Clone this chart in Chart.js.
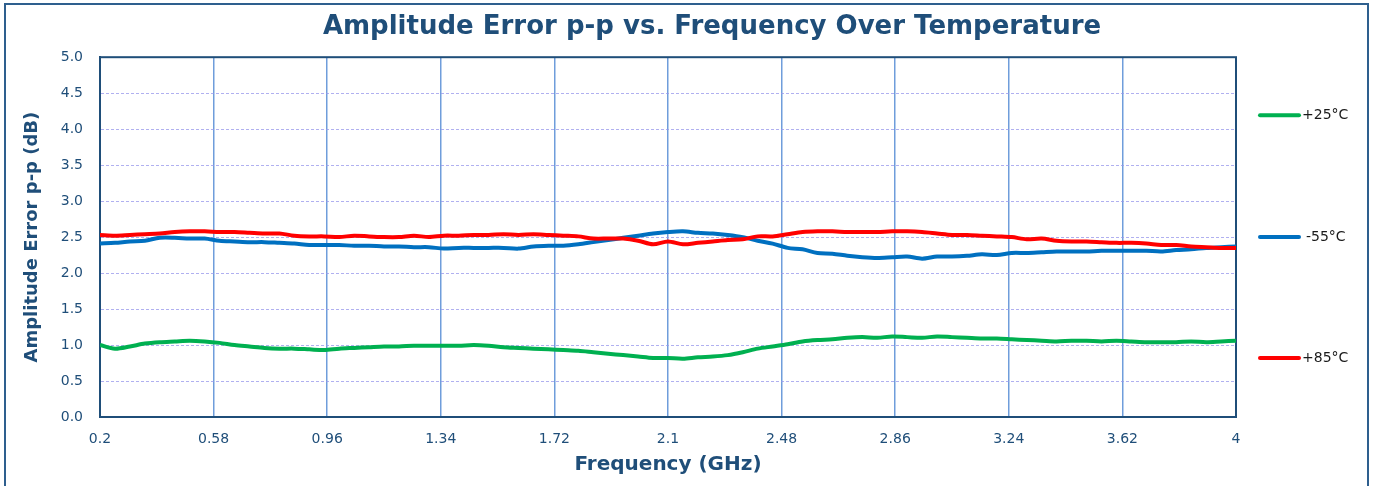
<!DOCTYPE html>
<html>
<head>
<meta charset="utf-8">
<script src="https://cdn.jsdelivr.net/npm/chart.js@4.4.1/dist/chart.umd.min.js"></script>
<style>
  html, body { margin: 0; padding: 0; background: #ffffff; }
  #wrap { width: 1373px; height: 486px; }
</style>
</head>
<body>
<div id="wrap"><canvas id="ampChart" width="1373" height="486"></canvas></div>
<script>
// frequency points (GHz)
const freq = [
  0.20, 0.25, 0.30, 0.35, 0.40, 0.45, 0.50, 0.55, 0.60, 0.65,
  0.70, 0.75, 0.80, 0.85, 0.90, 0.95, 1.00, 1.05, 1.10, 1.15,
  1.20, 1.25, 1.30, 1.35, 1.40, 1.45, 1.50, 1.55, 1.60, 1.65,
  1.70, 1.75, 1.80, 1.85, 1.90, 1.95, 2.00, 2.05, 2.10, 2.15,
  2.20, 2.25, 2.30, 2.35, 2.40, 2.45, 2.50, 2.55, 2.60, 2.65,
  2.70, 2.75, 2.80, 2.85, 2.90, 2.95, 3.00, 3.05, 3.10, 3.15,
  3.20, 3.25, 3.30, 3.35, 3.40, 3.45, 3.50, 3.55, 3.60, 3.65,
  3.70, 3.75, 3.80, 3.85, 3.90, 3.95, 4.00
];

const temp25 = [
  1.00, 0.95, 0.98, 1.02, 1.04, 1.05, 1.06, 1.05, 1.03, 1.00,
  0.98, 0.96, 0.95, 0.95, 0.94, 0.93, 0.95, 0.96, 0.97, 0.98,
  0.98, 0.99, 0.99, 0.99, 0.99, 1.00, 0.99, 0.97, 0.96, 0.95,
  0.94, 0.93, 0.92, 0.90, 0.88, 0.86, 0.84, 0.82, 0.82, 0.81,
  0.83, 0.84, 0.86, 0.90, 0.95, 0.98, 1.01, 1.05, 1.07, 1.08,
  1.10, 1.11, 1.10, 1.12, 1.11, 1.10, 1.12, 1.11, 1.10, 1.09,
  1.09, 1.08, 1.07, 1.06, 1.05, 1.06, 1.06, 1.05, 1.06, 1.05,
  1.04, 1.04, 1.04, 1.05, 1.04, 1.05, 1.06
];

const tempMinus55 = [
  2.41, 2.42, 2.44, 2.45, 2.49, 2.49, 2.48, 2.48, 2.45, 2.44,
  2.43, 2.43, 2.42, 2.41, 2.39, 2.39, 2.39, 2.38, 2.38, 2.37,
  2.37, 2.36, 2.36, 2.34, 2.35, 2.35, 2.35, 2.35, 2.34, 2.37,
  2.38, 2.38, 2.40, 2.43, 2.46, 2.49, 2.52, 2.55, 2.57, 2.58,
  2.56, 2.55, 2.53, 2.50, 2.45, 2.41, 2.35, 2.33, 2.28, 2.27,
  2.24, 2.22, 2.21, 2.22, 2.23, 2.20, 2.23, 2.23, 2.24, 2.26,
  2.25, 2.28, 2.28, 2.29, 2.30, 2.30, 2.30, 2.31, 2.31, 2.31,
  2.31, 2.30, 2.32, 2.33, 2.35, 2.36, 2.37
];

const temp85 = [
  2.53, 2.52, 2.53, 2.54, 2.55, 2.57, 2.58, 2.58, 2.57, 2.57,
  2.56, 2.55, 2.55, 2.52, 2.51, 2.51, 2.50, 2.52, 2.51, 2.50,
  2.50, 2.52, 2.50, 2.52, 2.52, 2.53, 2.53, 2.54, 2.53, 2.54,
  2.53, 2.52, 2.51, 2.48, 2.48, 2.48, 2.45, 2.40, 2.44, 2.40,
  2.42, 2.44, 2.46, 2.47, 2.51, 2.51, 2.54, 2.57, 2.58, 2.58,
  2.57, 2.57, 2.57, 2.58, 2.58, 2.57, 2.55, 2.53, 2.53, 2.52,
  2.51, 2.50, 2.47, 2.48, 2.45, 2.44, 2.44, 2.43, 2.42, 2.42,
  2.41, 2.39, 2.39, 2.37, 2.36, 2.35, 2.35
];

const seriesLabels = ["+25°C", "-55°C", "+85°C"];
const xTickValues = [0.2, 0.58, 0.96, 1.34, 1.72, 2.1, 2.48, 2.86, 3.24, 3.62, 4];

const navy = "#1F4E79";

const toPoints = (values) => values.map((v, i) => ({ x: freq[i], y: v }));

// white background, outer frame, plot frame
const framePlugin = {
  id: "frames",
  afterLayout(chart) {
    // the title sits a bit right of centre in the original
    if (chart.titleBlock) {
      chart.titleBlock.left += 88;
      chart.titleBlock.right += 88;
    }
  },
  beforeDraw(chart) {
    const ctx = chart.ctx;
    ctx.save();
    ctx.fillStyle = "#ffffff";
    ctx.fillRect(0, 0, chart.width, chart.height);
    ctx.strokeStyle = "#2E5F8E";
    ctx.lineWidth = 2;
    ctx.strokeRect(5, 4, chart.width - 10, chart.height + 10);
    ctx.restore();
  },
  beforeDatasetsDraw(chart) {
    const { ctx, chartArea } = chart;
    ctx.save();
    ctx.strokeStyle = navy;
    ctx.lineWidth = 2;
    ctx.strokeRect(chartArea.left, chartArea.top, chartArea.right - chartArea.left, chartArea.bottom - chartArea.top);
    ctx.restore();
  },
};

// legend spread down the right side
const legendSpots = [0.161, 0.5, 0.836];
const sideLegend = {
  id: "sideLegend",
  afterDraw(chart) {
    const { ctx, chartArea } = chart;
    const h = chartArea.bottom - chartArea.top;
    ctx.save();
    chart.data.datasets.forEach((ds, i) => {
      const y = chartArea.top + legendSpots[i] * h;
      ctx.strokeStyle = ds.borderColor;
      ctx.lineWidth = 4;
      ctx.lineCap = "round";
      ctx.beginPath();
      ctx.moveTo(chartArea.right + 24, y);
      ctx.lineTo(chartArea.right + 63, y);
      ctx.stroke();
      ctx.fillStyle = "#1a1a1a";
      ctx.font = "14px 'DejaVu Sans'";
      ctx.textBaseline = "middle";
      ctx.fillText(ds.label, chartArea.right + (ds.label.startsWith("-") ? 70 : 66), y);
    });
    ctx.restore();
  },
};

let ampCanvas = document.querySelector("#ampChart").getContext("2d");

let ampChart = new Chart(ampCanvas, {
  type: "line",
  data: {
    datasets: [
      {
        label: seriesLabels[0],
        data: toPoints(temp25),
        borderColor: "#00B050",
        borderWidth: 4,
        pointRadius: 0,
        tension: 0.3,
        order: 2,
      },
      {
        label: seriesLabels[1],
        data: toPoints(tempMinus55),
        borderColor: "#0070C0",
        borderWidth: 4,
        pointRadius: 0,
        tension: 0.3,
        order: 1,
      },
      {
        label: seriesLabels[2],
        data: toPoints(temp85),
        borderColor: "#FF0000",
        borderWidth: 4,
        pointRadius: 0,
        tension: 0.3,
        order: 0,
      },
    ],
  },
  plugins: [framePlugin, sideLegend],
  options: {
    responsive: false,
    animation: false,
    layout: {
      padding: { left: 12, right: 137, top: 0, bottom: 0 },
    },
    plugins: {
      legend: { display: false },
      tooltip: { enabled: false },
      title: {
        display: true,
        text: "Amplitude Error p-p vs. Frequency Over Temperature",
        color: navy,
        font: { family: "'DejaVu Sans'", size: 26, weight: "bold" },
        padding: { top: 12, bottom: 14 },
      },
    },
    scales: {
      x: {
        type: "linear",
        min: 0.2,
        max: 4,
        afterBuildTicks: (scale) => {
          scale.ticks = xTickValues.map((v) => ({ value: v }));
        },
        afterFit: (scale) => {
          scale.height = 69;
        },
        ticks: {
          color: navy,
          font: { family: "'DejaVu Sans'", size: 14 },
          padding: 14,
          maxRotation: 0,
          autoSkip: false,
          callback: (v) => String(v),
        },
        grid: {
          color: "#6F9DDB",
          lineWidth: 1.5,
          drawTicks: false,
        },
        border: { color: navy, width: 2 },
        title: {
          display: true,
          text: "Frequency (GHz)",
          color: navy,
          font: { family: "'DejaVu Sans'", size: 20, weight: "bold" },
          padding: { top: 0, bottom: 9 },
        },
      },
      y: {
        min: 0,
        max: 5,
        afterFit: (scale) => {
          scale.width = 88;
        },
        ticks: {
          stepSize: 0.5,
          color: navy,
          font: { family: "'DejaVu Sans'", size: 14 },
          padding: 17,
          callback: (v) => v.toFixed(1),
        },
        grid: {
          color: "rgba(150,150,235,0.75)",
          lineWidth: 1,
          drawTicks: false,
        },
        border: { color: navy, width: 2, dash: [3, 2] },
        title: {
          display: true,
          text: "Amplitude Error p-p (dB)",
          color: navy,
          font: { family: "'DejaVu Sans'", size: 18, weight: "bold" },
          padding: { top: 10, bottom: 0 },
        },
      },
    },
  },
});
</script>
</body>
</html>
